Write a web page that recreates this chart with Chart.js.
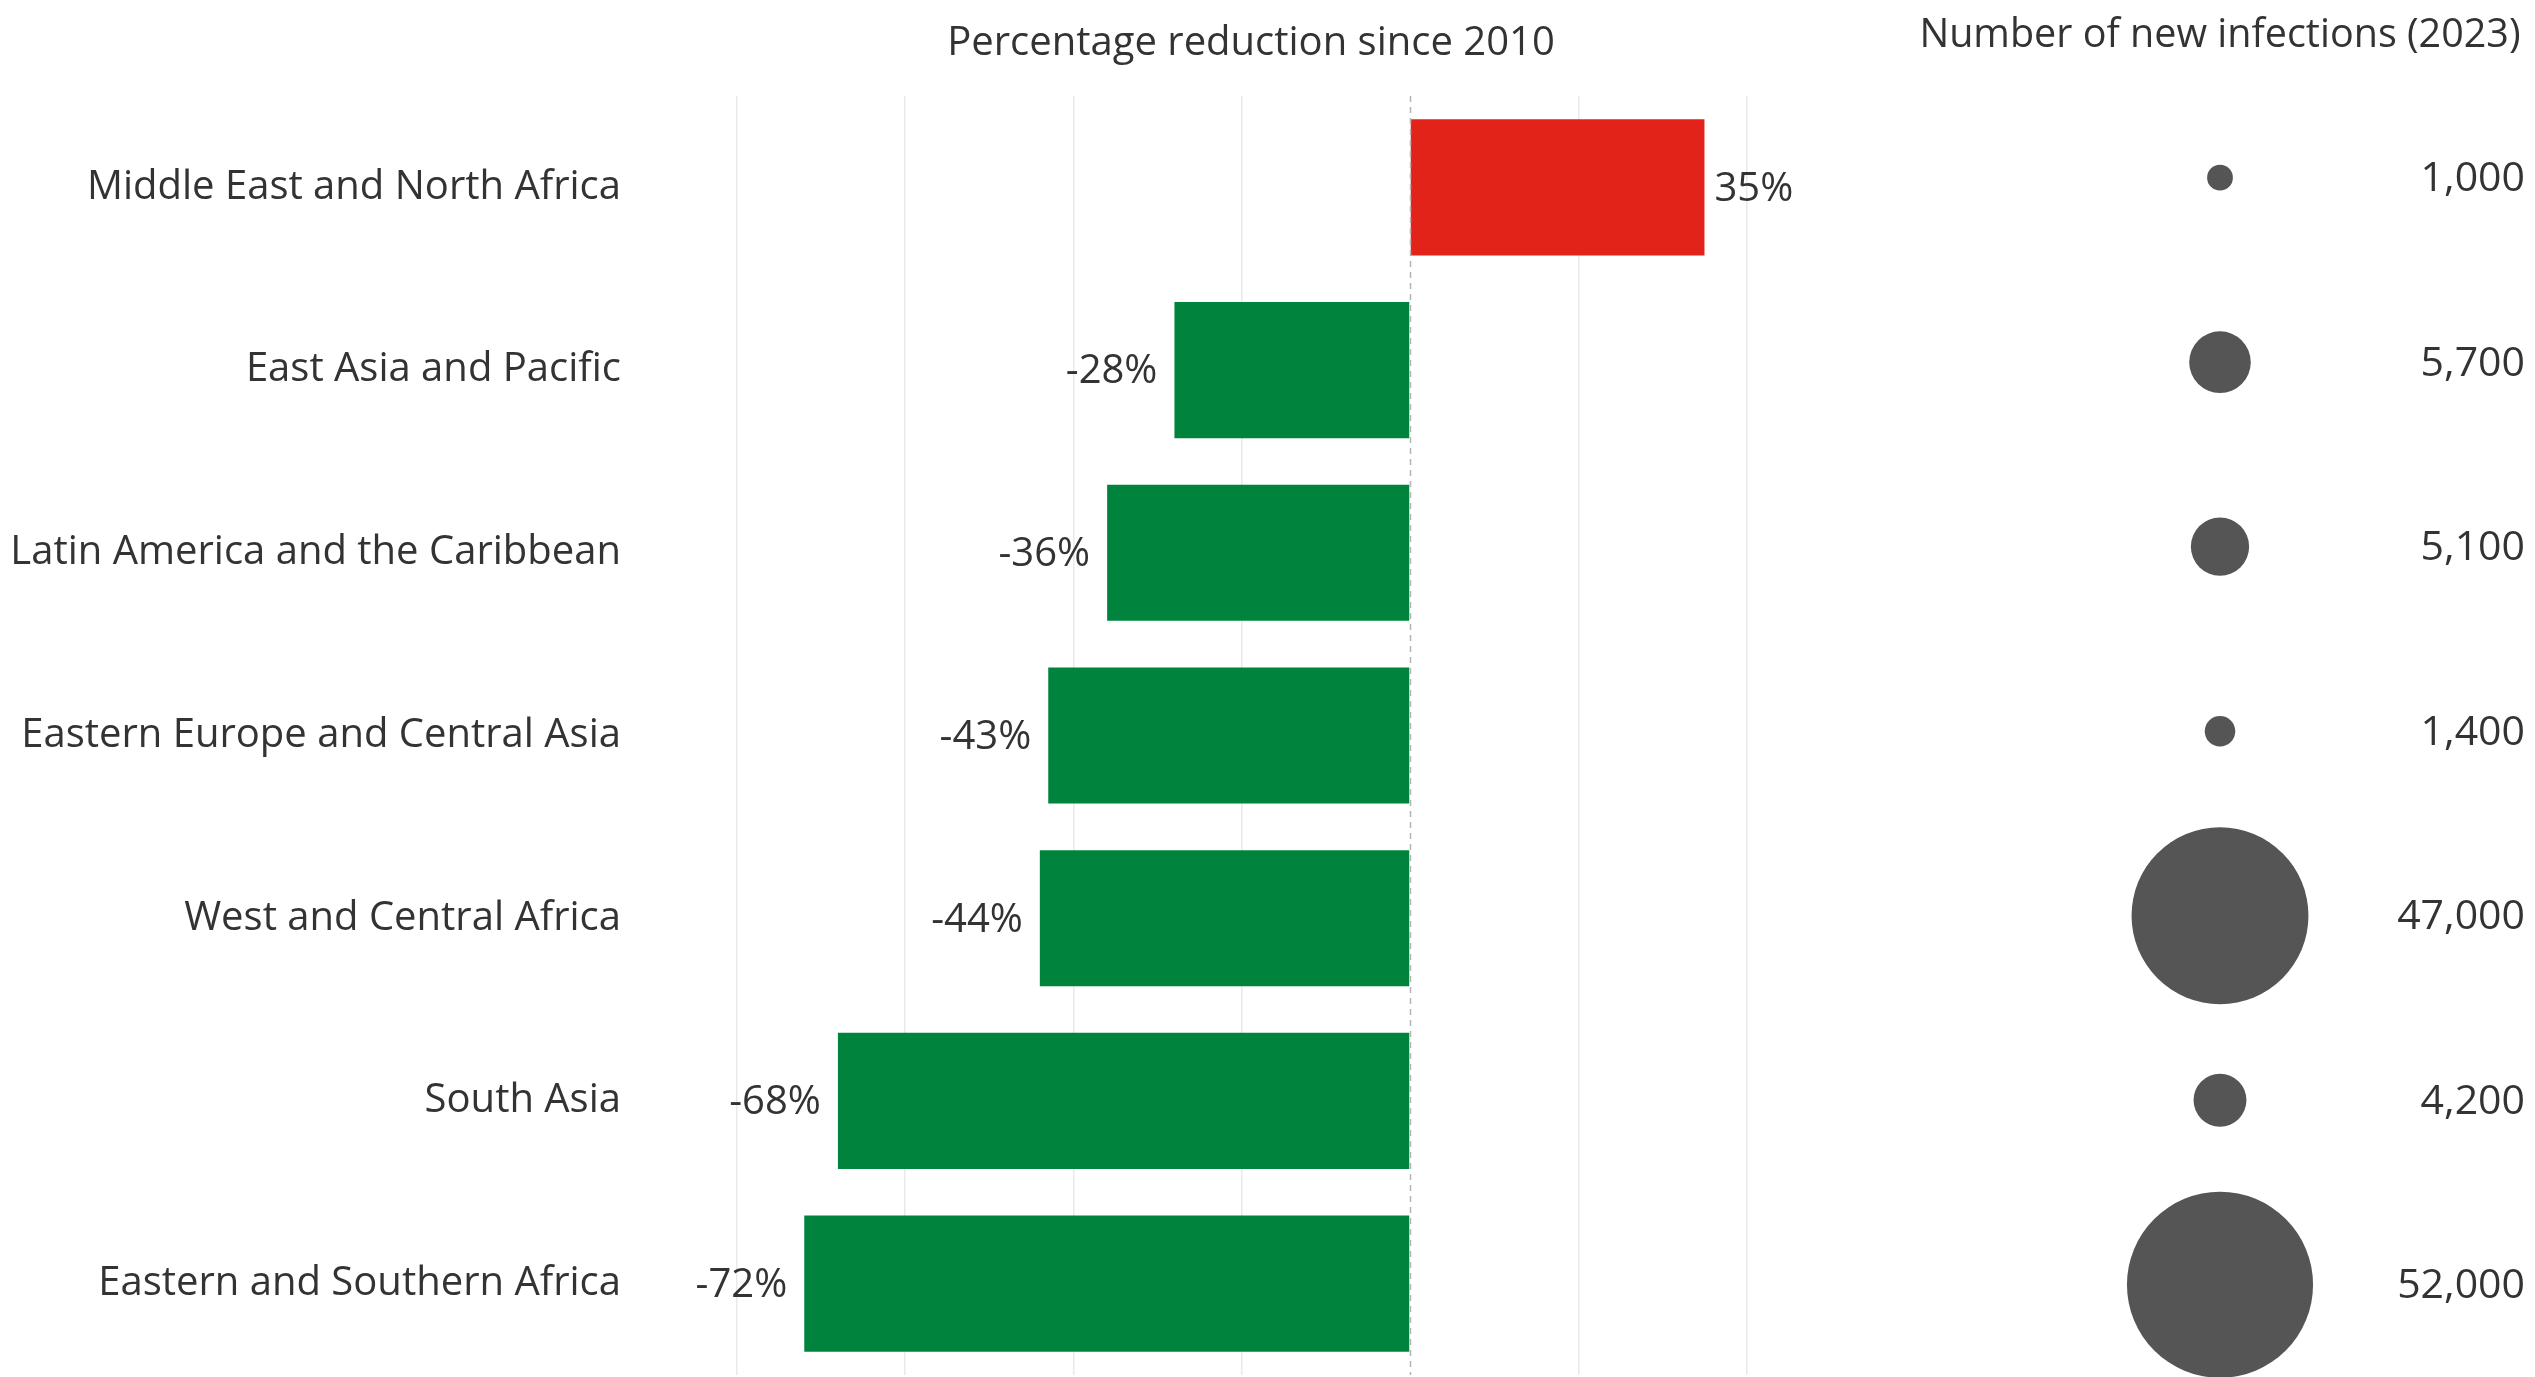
<!DOCTYPE html>
<html>
<head>
<meta charset="utf-8">
<script src="https://cdn.jsdelivr.net/npm/chart.js@4.4.1/dist/chart.umd.min.js"></script>
<style>
  html, body { margin: 0; padding: 0; background: #fff; overflow: hidden; }
  #wrap { position: relative; width: 2535px; height: 1377px; }
  #bars { position: absolute; left: 0; top: 0; }
  #bubbles { position: absolute; left: 1900px; top: 0; }
</style>
</head>
<body>
<div id="wrap">
  <canvas id="bars" width="1900" height="1377"></canvas>
  <canvas id="bubbles" width="635" height="1377"></canvas>
</div>
<script>
const regions = [
    'Middle East and North Africa',
    'East Asia and Pacific',
    'Latin America and the Caribbean',
    'Eastern Europe and Central Asia',
    'West and Central Africa',
    'South Asia',
    'Eastern and Southern Africa'
]
// change in new infections since 2010, in %
const pctChange = [35, -28, -36, -43, -44, -68, -72]
// new infections in 2023
const newInfections = [1000, 5700, 5100, 1400, 47000, 4200, 52000]
const gridTicks = [-80, -60, -40, -20, 0, 20, 40]

const barsTitle = 'Percentage reduction since 2010'
const bubblesTitle = 'Number of new infections (2023)'

const TEXT = '#333333'
const FONT = "'Open Sans', sans-serif"

Chart.defaults.font.family = FONT
Chart.defaults.color = TEXT

// bubble area follows the value
const radiusFor = v => Math.sqrt(v) * 0.408

const barLabels = {
    id: 'barLabels',
    afterDatasetsDraw(chart) {
        const ctx = chart.ctx
        const meta = chart.getDatasetMeta(0)
        const vals = chart.data.datasets[0].data
        ctx.save()
        ctx.font = `40px ${FONT}`
        ctx.fillStyle = TEXT
        ctx.textBaseline = 'middle'
        meta.data.forEach((bar, i) => {
            const v = vals[i]
            if (v >= 0) {
                ctx.textAlign = 'left'
                ctx.fillText(v + '%', bar.x + 10, bar.y + 2)
            } else {
                ctx.textAlign = 'right'
                ctx.fillText(v + '%', bar.x - 17, bar.y + 2)
            }
        })
        ctx.restore()
    }
}

const zeroLine = {
    id: 'zeroLine',
    afterDatasetsDraw(chart) {
        const ctx = chart.ctx
        const x = Math.round(chart.scales.x.getPixelForValue(0)) + 0.5
        const area = chart.chartArea
        ctx.save()
        ctx.strokeStyle = '#b5b5b5'
        ctx.lineWidth = 1.5
        ctx.setLineDash([6, 5])
        ctx.beginPath()
        ctx.moveTo(x, area.top)
        ctx.lineTo(x, area.bottom)
        ctx.stroke()
        ctx.restore()
    }
}

const countLabels = {
    id: 'countLabels',
    afterDatasetsDraw(chart) {
        const ctx = chart.ctx
        const meta = chart.getDatasetMeta(0)
        ctx.save()
        ctx.font = `41px ${FONT}`
        ctx.fillStyle = TEXT
        ctx.textAlign = 'right'
        ctx.textBaseline = 'middle'
        meta.data.forEach((pt, i) => {
            ctx.fillText(newInfections[i].toLocaleString('en-US'), chart.chartArea.right, pt.y + 2)
        })
        ctx.restore()
    }
}

const bar_chart = new Chart(document.getElementById('bars'), {
    type: 'bar',
    data: {
        labels: regions,
        datasets: [{
            data: pctChange,
            backgroundColor: ctx => ctx.raw >= 0 ? '#e1231a' : '#00843d',
            borderWidth: 0,
            categoryPercentage: 1,
            barPercentage: 0.745
        }]
    },
    options: {
        indexAxis: 'y',
        responsive: false,
        animation: false,
        devicePixelRatio: 1,
        events: [],
        layout: { autoPadding: false, padding: { top: 0, right: 34, bottom: 2, left: 0 } },
        plugins: {
            legend: { display: false },
            tooltip: { enabled: false },
            title: {
                display: true,
                text: barsTitle,
                fullSize: false,
                color: TEXT,
                font: { size: 40, weight: 'normal' },
                padding: { top: 20, bottom: 28 }
            }
        },
        scales: {
            x: {
                type: 'linear',
                min: -92,
                max: 54.2,
                afterBuildTicks: axis => { axis.ticks = gridTicks.map(v => ({ value: v })) },
                ticks: { display: false },
                border: { display: false },
                grid: {
                    drawTicks: false,
                    lineWidth: 1.5,
                    color: ctx => ctx.tick && ctx.tick.value === 0 ? 'rgba(0,0,0,0)' : '#e9e9e9'
                }
            },
            y: {
                type: 'category',
                afterFit: axis => {
                    axis.width = 636
                    // labels sit in the middle of their band, no extra room needed
                    axis.paddingTop = 0
                    axis.paddingBottom = 0
                },
                border: { display: false },
                grid: { display: false, drawTicks: false },
                ticks: { padding: 15, font: { size: 40 }, color: TEXT }
            }
        }
    },
    plugins: [zeroLine, barLabels]
})

const bubble_chart = new Chart(document.getElementById('bubbles'), {
    type: 'bubble',
    data: {
        datasets: [{
            data: regions.map((r, i) => ({ x: bubblesTitle, y: r, r: radiusFor(newInfections[i]) })),
            backgroundColor: '#555555',
            borderWidth: 0,
            clip: false
        }]
    },
    options: {
        responsive: false,
        animation: false,
        devicePixelRatio: 1,
        events: [],
        layout: { autoPadding: false, padding: { top: 0, right: 10, bottom: -4.6, left: 15 } },
        plugins: {
            legend: { display: false },
            tooltip: { enabled: false },
            title: {
                display: true,
                text: bubblesTitle,
                fullSize: false,
                color: TEXT,
                font: { size: 39.5, weight: 'normal' },
                padding: { top: 12, bottom: 26 }
            }
        },
        scales: {
            x: { type: 'category', labels: [bubblesTitle], offset: true, display: false },
            y: { type: 'category', labels: regions, offset: true, display: false }
        }
    },
    plugins: [countLabels]
})
</script>
</body>
</html>
